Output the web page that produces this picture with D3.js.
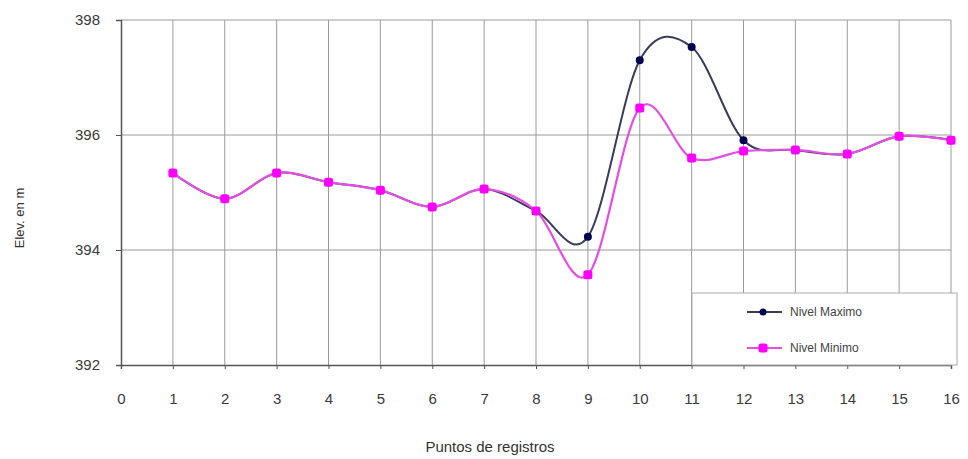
<!DOCTYPE html>
<html>
<head>
<meta charset="utf-8">
<script src="https://cdn.jsdelivr.net/npm/d3@7"></script>
<style>
body { margin: 0; background: #fff; }
text { font-family: "Liberation Sans", Arial, sans-serif; fill: #333; }
</style>
</head>
<body>
<div id="chart"></div>
<script>
var width = 968,
height = 459;

// data
var puntos = [1, 2, 3, 4, 5, 6, 7, 8, 9, 10, 11, 12, 13, 14, 15, 16];
var nivelMaximo = [395.34, 394.89, 395.34, 395.18, 395.04, 394.75, 395.06, 394.68, 394.23, 397.30, 397.53, 395.91, 395.74, 395.67, 395.98, 395.91];
var nivelMinimo = [395.34, 394.89, 395.34, 395.18, 395.04, 394.75, 395.06, 394.68, 393.57, 396.47, 395.60, 395.72, 395.74, 395.67, 395.98, 395.91];
var xTicks = [0, 1, 2, 3, 4, 5, 6, 7, 8, 9, 10, 11, 12, 13, 14, 15, 16];
var yTicks = [392, 394, 396, 398];

var margin = {top: 20, right: 17, bottom: 94, left: 121};

var x = d3.scaleLinear()
.domain([0, 16])
.range([margin.left, width - margin.right]);

var y = d3.scaleLinear()
.domain([392, 398])
.range([height - margin.bottom, margin.top]);

var svg = d3.select("#chart")
.append("svg")
.attr("width", width)
.attr("height", height);

// grid
svg.append("g")
.selectAll("line")
.data(xTicks.slice(1))
.enter().append("line")
.attr("x1", function(d) { return x(d); })
.attr("x2", function(d) { return x(d); })
.attr("y1", y(398))
.attr("y2", y(392))
.attr("stroke", "#9a9a9a")
.attr("stroke-width", 1);

svg.append("g")
.selectAll("line")
.data(yTicks.slice(1))
.enter().append("line")
.attr("x1", x(0))
.attr("x2", x(16))
.attr("y1", function(d) { return y(d); })
.attr("y2", function(d) { return y(d); })
.attr("stroke", "#9a9a9a")
.attr("stroke-width", 1);

// axes
var yAxis = d3.axisLeft(y).tickValues(yTicks).tickSize(5).tickPadding(16).tickFormat(d3.format("d"));
var xAxis = d3.axisBottom(x).tickValues(xTicks).tickSize(4).tickPadding(24).tickFormat(d3.format("d"));

var gy = svg.append("g")
.attr("transform", "translate(" + x(0) + ",0)")
.call(yAxis);

var gx = svg.append("g")
.attr("transform", "translate(0," + y(392) + ")")
.call(xAxis);

[gx, gy].forEach(function(g) {
  g.select(".domain").attr("stroke", "#555").attr("stroke-width", 1.5);
  g.selectAll(".tick line").attr("stroke", "#555");
  g.selectAll(".tick text").attr("font-size", 15).style("fill", "#3a3a3a");
});

// axis titles
svg.append("text")
.attr("x", 490)
.attr("y", 452)
.attr("text-anchor", "middle")
.attr("font-size", 15)
.text("Puntos de registros");

svg.append("text")
.attr("transform", "translate(24,218) rotate(-90)")
.attr("text-anchor", "middle")
.attr("font-size", 13)
.text("Elev. en m");

// lines
var line = d3.line()
.x(function(d, i) { return x(puntos[i]); })
.y(function(d) { return y(d); })
.curve(d3.curveCatmullRom.alpha(0));

svg.append("path")
.datum(nivelMaximo)
.attr("d", line)
.attr("fill", "none")
.attr("stroke", "#3a3a5c")
.attr("stroke-width", 2);

svg.append("g")
.selectAll("circle")
.data(nivelMaximo)
.enter().append("circle")
.attr("cx", function(d, i) { return x(puntos[i]); })
.attr("cy", function(d) { return y(d); })
.attr("r", 4)
.attr("fill", "#000050");

svg.append("path")
.datum(nivelMinimo)
.attr("d", line)
.attr("fill", "none")
.attr("stroke", "#e34fe3")
.attr("stroke-width", 2.2);

svg.append("g")
.selectAll("rect")
.data(nivelMinimo)
.enter().append("rect")
.attr("x", function(d, i) { return x(puntos[i]) - 4.5; })
.attr("y", function(d) { return y(d) - 4.5; })
.attr("width", 9)
.attr("height", 9)
.attr("rx", 2.5)
.attr("fill", "#ff00ff");

// legend
var legend = svg.append("g")
.attr("transform", "translate(692,293)");

legend.append("rect")
.attr("width", 265)
.attr("height", 72)
.attr("fill", "#fff")
.attr("stroke", "#aaa");

var series = [
  {name: "Nivel Maximo", line: "#3a3a5c", mark: "#000050", shape: "circle"},
  {name: "Nivel Minimo", line: "#e34fe3", mark: "#ff00ff", shape: "rect"}
];

var item = legend.selectAll(".item")
.data(series)
.enter().append("g")
.attr("class", "item")
.attr("transform", function(d, i) { return "translate(0," + (19 + i * 36) + ")"; });

item.append("line")
.attr("x1", 55).attr("x2", 90)
.attr("stroke", function(d) { return d.line; })
.attr("stroke-width", 2);

item.each(function(d) {
  var g = d3.select(this);
  if (d.shape == "circle") {
    g.append("circle").attr("cx", 71).attr("r", 3.5).attr("fill", d.mark);
  } else {
    g.append("rect").attr("x", 66.5).attr("y", -4.5).attr("width", 9).attr("height", 9).attr("rx", 2.5).attr("fill", d.mark);
  }
});

item.append("text")
.attr("x", 98)
.attr("y", 4)
.attr("font-size", 12)
.style("fill", "#444")
.text(function(d) { return d.name; });
</script>
</body>
</html>
